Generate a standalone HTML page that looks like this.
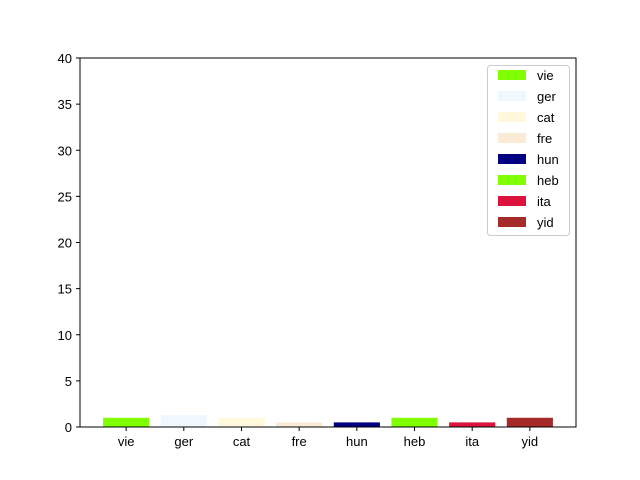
<!DOCTYPE html>
<html><head><meta charset="utf-8"><style>body{margin:0;background:#fff}svg{display:block;font-family:"Liberation Sans","DejaVu Sans",sans-serif}</style></head>
<body>
<svg id="c" width="640" height="480"></svg>
<script>
const categories=["vie","ger","cat","fre","hun","heb","ita","yid"];
const values=[1,1.3,1,0.5,0.5,1,0.5,1];
const colors=["#7fff00","#f0f8ff","#fff8dc","#faebd7","#000080","#7fff00","#dc143c","#a52a2a"];
const yTicks=[0,5,10,15,20,25,30,35,40];
const NS="http://www.w3.org/2000/svg";
const svg=document.getElementById('c');
const L=80,R=576,T=58,B=427;
const x=i=>L+(i+0.8)/8.6*(R-L);
const y=v=>B-v/40*(B-T);
function mk(t,a,p){const e=document.createElementNS(NS,t);for(const k in a)e.setAttribute(k,a[k]);(p||svg).appendChild(e);return e;}
categories.forEach((c,i)=>{
 const w=0.8/8.6*(R-L);
 const r=mk('rect',{x:x(i)-w/2,y:y(values[i]),width:w,height:B-y(values[i]),fill:colors[i]});
 
 
 const tk=mk('line',{x1:x(i),x2:x(i),y1:B,y2:B+4,stroke:'#000'});
 
 
 const t=mk('text',{x:x(i),y:B+19,'text-anchor':'middle','font-size':13});
 t.textContent=c;
 
 
});
yTicks.forEach(v=>{
 const tk=mk('line',{x1:L-4,x2:L,y1:y(v),y2:y(v),stroke:'#000'});
 
 
 const t=mk('text',{x:L-8,y:y(v)+5,'text-anchor':'end','font-size':13});
 t.textContent=v;
 
 
});
const fr=mk('rect',{x:L,y:T,width:R-L,height:B-T,fill:'none',stroke:'#000','stroke-width':1});


const lg=mk('g',{});


mk('rect',{x:487.5,y:65.5,width:82,height:170,rx:3,fill:'#fff',stroke:'#ccc'},lg);
categories.forEach((c,i)=>{
 const yy=70+i*21;
 const p=mk('rect',{x:498,y:yy,width:28,height:10,fill:colors[i]},lg);
 
 
 const t=mk('text',{x:537,y:yy+10,'font-size':13},lg);
 t.textContent=c;
 
 
});
</script>
</body></html>
